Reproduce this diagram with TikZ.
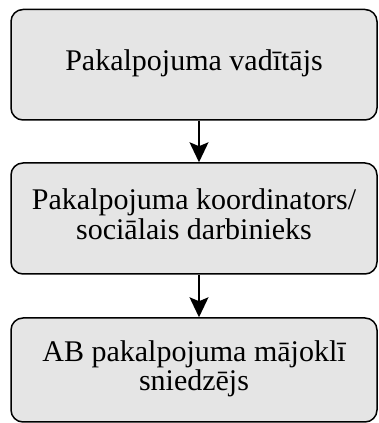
\documentclass[tikz,border=0pt]{standalone}
\usepackage{fontspec}
\setmainfont{Liberation Serif}
\usetikzlibrary{arrows.meta}
\definecolor{boxgray}{RGB}{229,229,229}
\newcommand{\boxtext}[2]{\raisebox{#1}{\begin{tabular}{@{}c@{}}#2\end{tabular}}}
\tikzset{
  flowbox/.style={draw=black, line width=1.5pt, fill=boxgray, rounded corners=12pt,
    minimum width=366pt, align=center, inner sep=0pt,
    font=\fontsize{30pt}{29.5pt}\selectfont},
  flowarrow/.style={line width=1.5pt, -{Stealth[length=20pt,width=19pt,inset=4pt]}}
}
\begin{document}
\begin{tikzpicture}[x=1pt,y=1pt]
\useasboundingbox (0,0) rectangle (378,423);
\node[flowbox, minimum height=110.5pt] (b1) at (194,358.25) {\boxtext{-2pt}{Pakalpojuma vadītājs}};
\node[flowbox, minimum height=111pt] (b2) at (194,204.5) {\boxtext{-1pt}{Pakalpojuma koordinators/\\sociālais darbinieks}};
\node[flowbox, minimum height=104pt] (b3) at (194,53) {\boxtext{-5pt}{AB pakalpojuma mājoklī\\sniedzējs}};
\draw[flowarrow] ([xshift=5pt]b1.south) -- ([xshift=5pt]b2.north);
\draw[flowarrow] ([xshift=5pt]b2.south) -- ([xshift=5pt]b3.north);
\end{tikzpicture}
\end{document}
